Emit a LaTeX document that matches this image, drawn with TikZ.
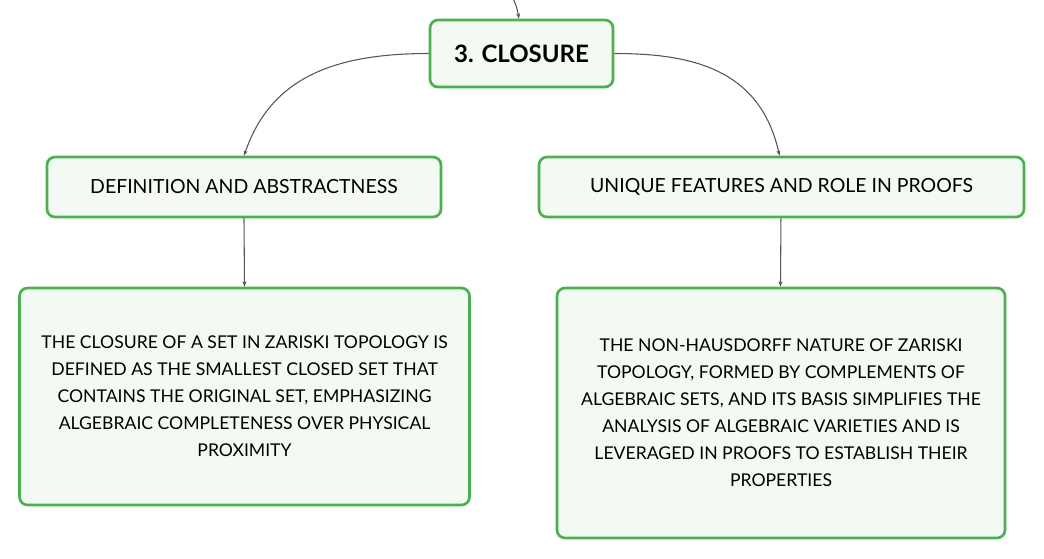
\documentclass[tikz,border=0pt]{standalone}
\usepackage{fontspec}
\setmainfont{Lato}
\usetikzlibrary{arrows.meta}
\definecolor{boxgreen}{HTML}{4CAF50}
\definecolor{boxfill}{HTML}{F2FAF3}
\definecolor{linegrey}{HTML}{555555}
\tikzset{
  box/.style={draw=boxgreen, fill=boxfill, line width=2pt, rounded corners=6pt,
    rectangle, align=center, inner sep=0pt, text=black},
  conn/.style={draw=linegrey, line width=0.8pt, -{Stealth[length=4pt,width=3pt]}},
  midtext/.style={font=\fontsize{14.6pt}{17pt}\selectfont},
  bodytext/.style={font=\fontsize{13.2pt}{20.25pt}\selectfont},
}
\begin{document}
\begin{tikzpicture}[x=0.75pt,y=-0.75pt]
\useasboundingbox (0,0) rectangle (1044,558);
\node[box, minimum width=137.25pt, minimum height=50.25pt,
  font=\fontsize{18pt}{21pt}\selectfont\bfseries] (top) at (521.5,53.5) {3. CLOSURE};
\node[box, midtext, minimum width=295.5pt, minimum height=45pt] (lm) at (244,187)
  {DEFINITION AND ABSTRACTNESS};
\node[box, midtext, minimum width=363.75pt, minimum height=45pt] (rm) at (781.5,187)
  {UNIQUE FEATURES AND ROLE IN PROOFS};
\node[box, bodytext, minimum width=337.5pt, minimum height=162.75pt] (lb) at (244.5,396.5)
  {THE CLOSURE OF A SET IN ZARISKI TOPOLOGY IS\\
   DEFINED AS THE SMALLEST CLOSED SET THAT\\
   CONTAINS THE ORIGINAL SET, EMPHASIZING\\
   ALGEBRAIC COMPLETENESS OVER PHYSICAL\\
   PROXIMITY};
\node[box, bodytext, minimum width=336pt, minimum height=187.5pt] (rb) at (781,413)
  {THE NON-HAUSDORFF NATURE OF ZARISKI\\
   TOPOLOGY, FORMED BY COMPLEMENTS OF\\
   ALGEBRAIC SETS, AND ITS BASIS SIMPLIFIES THE\\
   ANALYSIS OF ALGEBRAIC VARIETIES AND IS\\
   LEVERAGED IN PROOFS TO ESTABLISH THEIR\\
   PROPERTIES};
\coordinate (in0) at (513,-2);
\draw[conn] (in0) .. controls (517,8) .. ([xshift=-1.9pt]top.north);
\draw[conn] (top.west) .. controls (330,53.5) and (270,80) .. (lm.north);
\draw[conn] (top.east) .. controls (690,53.5) and (760,68) .. ([xshift=-1.5pt]rm.north);
\draw[conn] (lm.south) -- (lb.north);
\draw[conn] ([xshift=-0.4pt]rm.south) -- ([xshift=-0.4pt]rb.north);
\end{tikzpicture}
\end{document}
